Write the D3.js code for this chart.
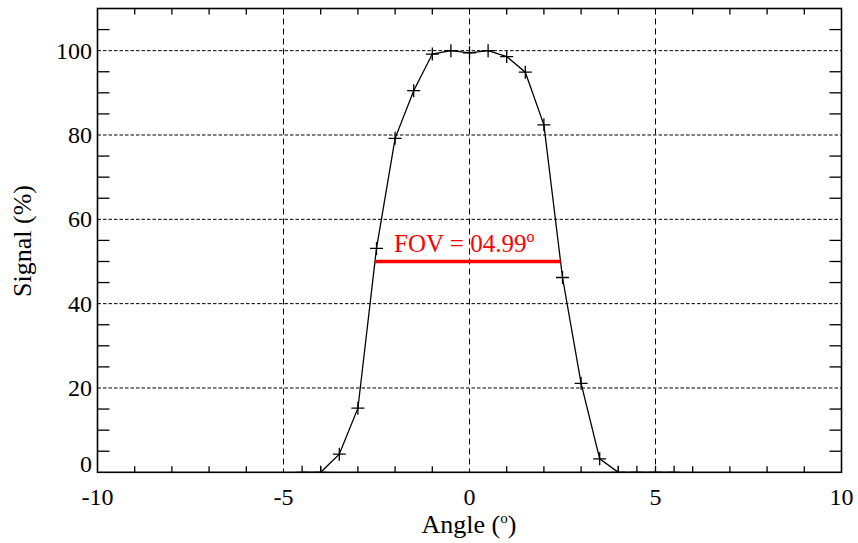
<!DOCTYPE html>
<html>
<head>
<meta charset="utf-8">
<script src="https://cdn.jsdelivr.net/npm/d3@7"></script>
<style>
  html, body { margin: 0; padding: 0; background: #fff; }
  svg { display: block; }
  text { font-family: "Liberation Serif", "Times New Roman", serif; fill: #000; }
</style>
</head>
<body>
<svg id="chart" width="858" height="543"></svg>
<script>
// ---- data ----
const angles = [-4.5, -4, -3.5, -3, -2.5, -2, -1.5, -1, -0.5, 0, 0.5, 1, 1.5, 2, 2.5, 3, 3.5, 4, 4.5, 5, 5.5];
const signal = [0, 0, 4.3, 15.2, 53.1, 79.2, 90.5, 99.2, 100, 99.5, 100, 98.6, 94.9, 82.4, 46.2, 21.1, 3.2, 0, 0, 0, 0];
const xTickValues = [-10, -5, 0, 5, 10];
const yTickValues = [0, 20, 40, 60, 80, 100];
const xGridValues = [-5, 0, 5];
const yGridValues = [20, 40, 60, 80, 100];
const halfLevel = 50;
const fovLabel = "FOV = 04.99";

// ---- layout ----
const svg = d3.select("#chart");
const L = 97.5, R = 841.5, T = 8.5, B = 472.3;
const x = d3.scaleLinear().domain([-10, 10]).range([L, R]);
const y = d3.scaleLinear().domain([0, 110]).range([B, T]);

svg.append("defs").append("clipPath").attr("id", "plotclip")
  .append("rect").attr("x", L).attr("y", T).attr("width", R - L).attr("height", B - T);

// grid lines
const grid = svg.append("g");
grid.selectAll("line.vg").data(xGridValues).join("line")
  .attr("x1", d => x(d)).attr("x2", d => x(d)).attr("y1", T).attr("y2", B)
  .attr("stroke", "#000").attr("stroke-width", 1).attr("stroke-dasharray", "6,4");
grid.selectAll("line.hg").data(yGridValues).join("line")
  .attr("x1", L).attr("x2", R).attr("y1", d => y(d)).attr("y2", d => y(d))
  .attr("stroke", "#000").attr("stroke-width", 1).attr("stroke-dasharray", "3.5,2");

// minor ticks
const xMinor = d3.range(-9, 10, 1).filter(v => !xTickValues.includes(v));
const yMinor = d3.range(5, 110, 5).filter(v => !yTickValues.includes(v));
const tk = svg.append("g").attr("stroke", "#000").attr("stroke-width", 1.3);
const xLen = 6, yLen = 12;
tk.selectAll("line.xb").data(xMinor).join("line")
  .attr("x1", d => x(d)).attr("x2", d => x(d)).attr("y1", B).attr("y2", B - xLen);
tk.selectAll("line.xt").data(xMinor).join("line")
  .attr("x1", d => x(d)).attr("x2", d => x(d)).attr("y1", T).attr("y2", T + xLen);
tk.selectAll("line.yl").data(yMinor).join("line")
  .attr("y1", d => y(d)).attr("y2", d => y(d)).attr("x1", L).attr("x2", L + yLen);
tk.selectAll("line.yr").data(yMinor).join("line")
  .attr("y1", d => y(d)).attr("y2", d => y(d)).attr("x1", R).attr("x2", R - yLen);

// data line and markers
const plot = svg.append("g").attr("clip-path", "url(#plotclip)");
const pts = angles.map((a, i) => [a, signal[i]]);
plot.append("path").datum(pts)
  .attr("fill", "none").attr("stroke", "#000").attr("stroke-width", 1.3)
  .attr("d", d3.line().x(d => x(d[0])).y(d => y(d[1])));
const ms = 6.5;
plot.selectAll("path.mk").data(pts).join("path")
  .attr("fill", "none").attr("stroke", "#000").attr("stroke-width", 1.3)
  .attr("d", d => {
    const px = x(d[0]), py = y(d[1]);
    return `M${px - ms},${py}H${px + ms}M${px},${py - ms}V${py + ms}`;
  });

// FOV line: crossings of the half level by linear interpolation
function crossing(i0, i1) {
  const [xa, ya] = pts[i0], [xb, yb] = pts[i1];
  return xa + (halfLevel - ya) * (xb - xa) / (yb - ya);
}
let li = 0; while (signal[li + 1] < halfLevel) li++;
let ri = signal.length - 1; while (signal[ri - 1] < halfLevel) ri--;
const xL = crossing(li, li + 1), xR = crossing(ri - 1, ri);
svg.append("line")
  .attr("x1", x(xL)).attr("x2", x(xR)).attr("y1", y(halfLevel)).attr("y2", y(halfLevel))
  .attr("stroke", "#ff0000").attr("stroke-width", 3.5);
const ft = svg.append("text").attr("x", 394).attr("y", 252)
  .style("font-size", "25px").style("fill", "#ff0000");
ft.append("tspan").text(fovLabel);
ft.append("tspan").attr("dy", -10).style("font-size", "16px").text("o");

// frame
svg.append("rect").attr("x", L).attr("y", T).attr("width", R - L).attr("height", B - T)
  .attr("fill", "none").attr("stroke", "#000").attr("stroke-width", 1.6);

// tick labels
svg.selectAll("text.xl").data(xTickValues).join("text")
  .attr("x", d => x(d)).attr("y", 505).attr("text-anchor", "middle")
  .style("font-size", "24px").text(d => d < 0 ? "-" + Math.abs(d) : String(d));
svg.selectAll("text.yl").data(yTickValues).join("text")
  .attr("x", 92).attr("y", d => d === 0 ? B - 0.5 : y(d) + 8).attr("text-anchor", "end")
  .style("font-size", "24px").text(d => String(d));

// axis titles
const xt = svg.append("text").attr("x", 469).attr("y", 533).attr("text-anchor", "middle")
  .style("font-size", "26px");
xt.append("tspan").text("Angle (");
xt.append("tspan").attr("dy", -10).style("font-size", "15px").text("o");
xt.append("tspan").attr("dy", 10).text(")");
svg.append("text").attr("transform", "translate(31,241) rotate(-90)")
  .attr("text-anchor", "middle").style("font-size", "26px").text("Signal (%)");
</script>
</body>
</html>
